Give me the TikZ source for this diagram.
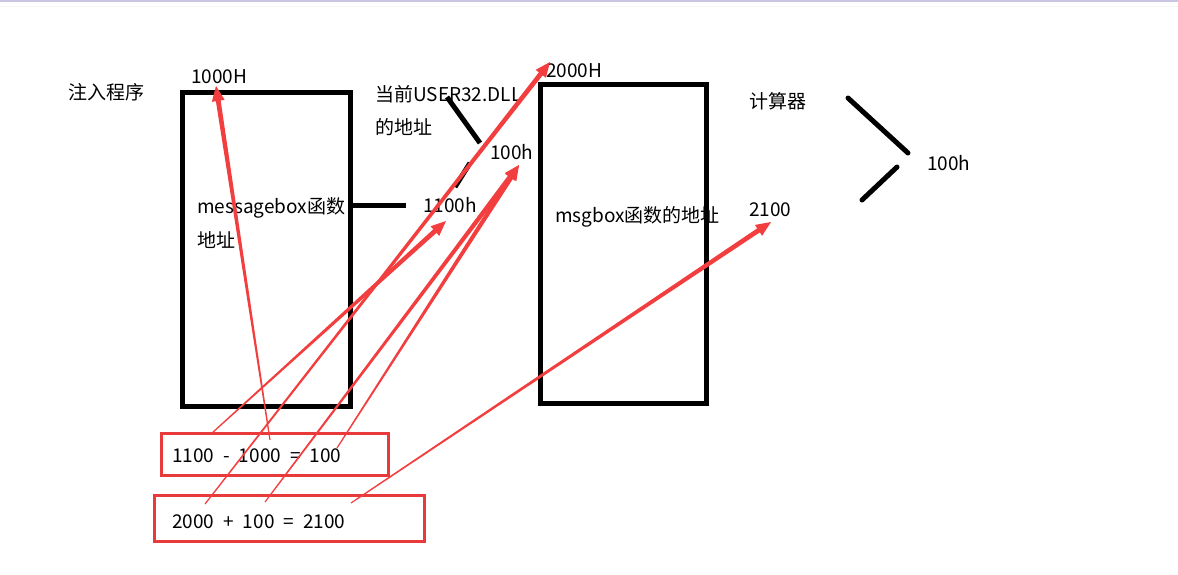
\documentclass[tikz,border=0pt]{standalone}
\usepackage{fontspec}
\setmainfont{Noto Sans CJK SC}
\usetikzlibrary{calc}
\definecolor{arrowred}{RGB}{242,62,62}
\definecolor{boxred}{RGB}{232,58,58}
\definecolor{topline}{RGB}{202,198,226}
\newcommand{\widespaces}{\spaceskip=9pt plus 1pt\relax}

% tapered red arrow: thin at #1, head at #2
\newcommand{\taperarrow}[2]{%
  \path ($(#2)!15pt!(#1)$) coordinate (hb);
  \fill[arrowred] ($(#1)!.6pt!-90:(#2)$) -- ($(hb)!2.4pt!-90:(#2)$) -- ($(hb)!6.5pt!-90:(#2)$)
    -- (#2) -- ($(hb)!6.5pt!90:(#2)$) -- ($(hb)!2.4pt!90:(#2)$) -- ($(#1)!.6pt!90:(#2)$) -- cycle;
}

\begin{document}
\begin{tikzpicture}[x=1pt,y=-1pt,font=\fontsize{19}{21}\selectfont,
  lbl/.style={anchor=west,inner sep=0pt},
  memblock/.style={draw=black,line width=5pt,inner sep=0pt},
  eqbox/.style={draw=boxred,line width=3pt,inner sep=0pt},
  brk/.style={draw=black,line width=5pt,line cap=round}]
\useasboundingbox (0,0) rectangle (1178,574);
\draw[topline,line width=2pt] (0,1) -- (1178,1);
\draw[black!4,line width=1pt] (0,6) -- (1178,6);
% the two memory blocks
\node[memblock,minimum width=168pt,minimum height=314pt] (injbox) at (266.5,249.5) {};
\node[memblock,minimum width=166pt,minimum height=319pt] (calcbox) at (623.5,244) {};
% labels
\node[lbl] (injname) at (68,92) {注入程序};
\node[lbl] (a1000) at (191,77) {1000H};
\node[lbl] (user32) at (375,94) {当前USER32.DLL};
\node[lbl] (user32b) at (375,127) {的地址};
\node[lbl] (a2000) at (546,71) {2000H};
\node[lbl] (off100) at (490,152) {100h};
\node[lbl] (a1100) at (423,205) {1100h};
\node[lbl] (mbname) at (197,208) {messagebox函数};
\node[lbl] (mbname2) at (197,240) {地址};
\node[lbl] (msgname) at (555,217) {msgbox函数的地址};
\node[lbl] (calcname) at (749,101) {计算器};
\node[lbl] (calcoff) at (927,163) {100h};
\node[lbl] (a2100) at (749,210) {2100};
% black marks
\draw[brk,line cap=butt] (injbox.east |- a1100.west) -- ([xshift=-17pt]a1100.west);
\draw[brk,line cap=butt] (447,97) -- (480,143);
\draw[brk,line cap=butt] (455,187) -- (470,163);
\draw[brk] (848,98) -- (908,153);
\draw[brk] (862,200) -- (897,167);
% the sums
\node[eqbox,minimum width=227pt,minimum height=42pt] (eqsub) at (275,454.5) {};
\node[lbl] (eqsubtxt) at (172,456) {\widespaces 1100 - 1000 = 100};
\node[eqbox,minimum width=270pt,minimum height=46pt] (eqadd) at (289.5,518.5) {};
\node[lbl] (eqaddtxt) at (172,522) {\widespaces 2000 + 100 = 2100};
% arrow ends
\coordinate (sA1) at (212,433);
\coordinate (sA2) at (270,440);
\coordinate (sA3) at (337,448);
\coordinate (sB1) at (205,504);
\coordinate (sB2) at (265,502);
\coordinate (sB3) at (351,503);
\coordinate (t1000) at (216,86);
\coordinate (t1100) at (446,221);
\coordinate (t100) at (519,165);
\coordinate (t2000) at (550,62);
\coordinate (t2100) at (771,222);
\taperarrow{sA2}{t1000}
\taperarrow{sA1}{t1100}
\taperarrow{sA3}{t100}
\taperarrow{sB1}{t2000}
\taperarrow{sB2}{t100}
\taperarrow{sB3}{t2100}
\end{tikzpicture}
\end{document}
